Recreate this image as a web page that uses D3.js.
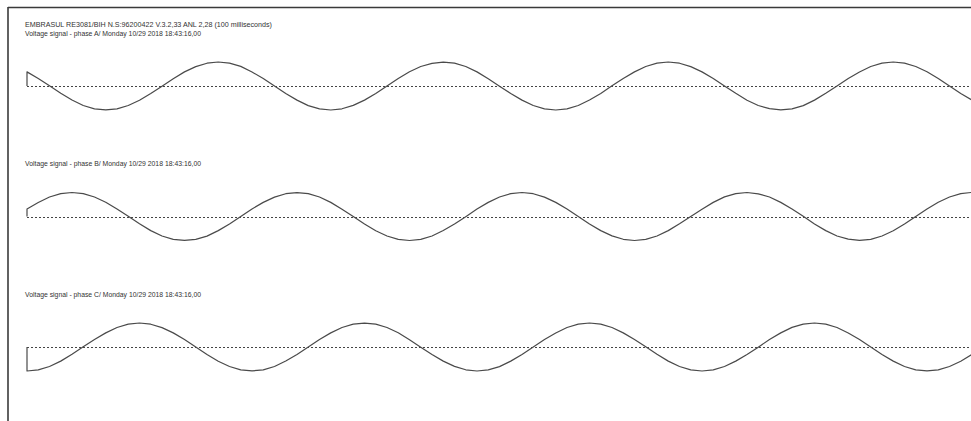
<!DOCTYPE html>
<html>
<head>
<meta charset="utf-8">
<script src="https://cdn.jsdelivr.net/npm/d3@7"></script>
<style>
  html, body { margin: 0; padding: 0; background: #fff; }
  svg { display: block; }
  text { font-family: "Liberation Sans", Arial, sans-serif; fill: #333; }
</style>
</head>
<body>
<svg id="chart" width="971" height="421"></svg>
<script>
// Header and per-phase titles
const headerLine = "EMBRASUL RE3081/BIH N.S:96200422 V.3.2,33 ANL 2,28 (100 milliseconds)";
const phaseTitles = [
  "Voltage signal - phase A/ Monday 10/29 2018 18:43:16,00",
  "Voltage signal - phase B/ Monday 10/29 2018 18:43:16,00",
  "Voltage signal - phase C/ Monday 10/29 2018 18:43:16,00"
];

// Sample times in milliseconds (1 ms step over the 100 ms record)
const timesMs = d3.range(0, 101);

// Phase A samples (V)
const phaseA = [
  106, 57, 1, -55, -105, -146, -171, -179, -172, -146, -107, -56, -1, 55, 106, 145, 171, 180, 172, 147,
  105, 56, 0, -56, -106, -147, -172, -180, -171, -145, -106, -57, 0, 56, 107, 146, 170, 179, 171, 146,
  106, 55, -1, -56, -106, -146, -171, -180, -172, -146, -105, -56, 1, 57, 106, 146, 171, 180, 171, 145,
  106, 56, 0, -55, -107, -146, -170, -179, -171, -147, -106, -55, 0, 56, 105, 146, 172, 180, 171, 146,
  107, 56, 0, -56, -106, -145, -171, -180, -171, -146, -106, -56, -1, 55, 106, 147, 171, 179, 172, 146,
  106
];

// Phase B samples (V)
const phaseB = [
  56, 105, 146, 171, 180, 172, 146, 107, 56, 1, -55, -106, -146, -171, -179, -171, -147, -106, -56, 0,
  57, 106, 145, 171, 179, 171, 146, 106, 55, 0, -56, -107, -146, -172, -180, -171, -146, -105, -56, -1,
  56, 106, 146, 172, 180, 171, 145, 106, 56, 0, -57, -106, -145, -171, -180, -172, -146, -106, -55, 0,
  55, 106, 147, 171, 180, 170, 146, 106, 57, 1, -56, -106, -146, -170, -179, -171, -146, -107, -56, 0,
  56, 107, 146, 171, 181, 171, 146, 105, 56, 0, -55, -106, -147, -171, -180, -171, -145, -106, -57, -1,
  56
];

// Phase C samples (V)
const phaseC = [
  -180, -171, -146, -106, -55, 1, 56, 106, 146, 172, 180, 171, 145, 106, 56, 0, -56, -107, -146, -171,
  -179, -172, -146, -105, -56, 0, 57, 106, 146, 171, 179, 171, 146, 107, 55, -1, -56, -106, -145, -171,
  -180, -171, -147, -106, -56, 0, 56, 105, 146, 171, 180, 172, 146, 106, 56, 1, -55, -106, -146, -172,
  -180, -171, -146, -106, -57, -1, 56, 106, 147, 171, 180, 171, 146, 105, 56, 0, -56, -106, -146, -171,
  -179, -171, -146, -107, -56, 0, 55, 106, 146, 170, 180, 171, 147, 106, 56, 0, -57, -106, -146, -171,
  -180
];

const series = [phaseA, phaseB, phaseC];

const svg = d3.select("#chart");
const W = 971, H = 421;

// Frame (top and left edges)
svg.append("line").attr("x1", 8).attr("x2", W).attr("y1", 7.5).attr("y2", 7.5)
  .attr("stroke", "#3a3a3a").attr("stroke-width", 1.6);
svg.append("line").attr("x1", 8).attr("x2", 8).attr("y1", 7).attr("y2", H)
  .attr("stroke", "#3a3a3a").attr("stroke-width", 1.6);

// Header line
svg.append("text").attr("x", 25).attr("y", 26.5)
  .attr("font-size", 8)
  .attr("textLength", 247).attr("lengthAdjust", "spacingAndGlyphs")
  .text(headerLine);

// Time scale: 20 ms per cycle spans 225 px; the record runs past the right edge
const x = d3.scaleLinear().domain([0, 100]).range([27, 1152]);

const panelTop = 7, panelStep = 130.5, baseOffset = 79;

series.forEach((vals, i) => {
  const base = panelTop + baseOffset + i * panelStep;
  const y = d3.scaleLinear().domain([-270, 270]).range([base + 36, base - 36]);
  const g = svg.append("g");

  g.append("text").attr("x", 25).attr("y", base - 50.5)
    .attr("font-size", 8)
    .attr("textLength", 176).attr("lengthAdjust", "spacingAndGlyphs")
    .text(phaseTitles[i]);

  // zero reference
  g.append("line")
    .attr("x1", x(0)).attr("x2", W)
    .attr("y1", Math.round(y(0)) + 0.5).attr("y2", Math.round(y(0)) + 0.5)
    .attr("stroke", "#444").attr("stroke-width", 1)
    .attr("stroke-dasharray", "2,2");

  // trace starts from the zero level, then follows the samples
  const pts = [[timesMs[0], 0]].concat(timesMs.map((t, k) => [t, vals[k]]));
  const line = d3.line()
    .x(d => x(d[0]))
    .y(d => y(d[1]));
  g.append("path")
    .attr("d", line(pts))
    .attr("fill", "none")
    .attr("stroke", "#4a4a4a")
    .attr("stroke-width", 1.2)
    .attr("stroke-linejoin", "round");
});
</script>
</body>
</html>
